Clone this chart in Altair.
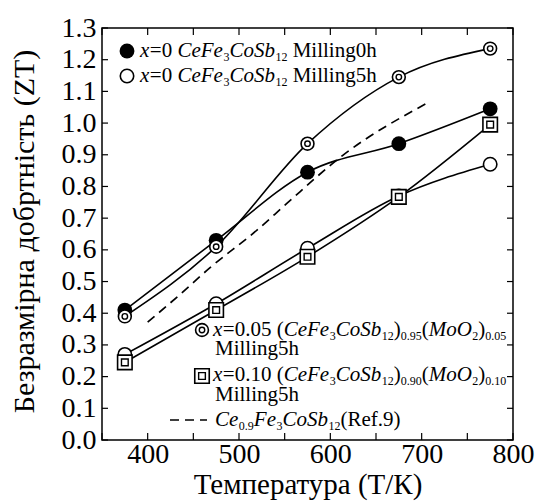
import altair as alt
import pandas as pd

# ---------------- data ----------------
temps = [375, 475, 575, 675, 775]
zt_x0_0h = [0.41, 0.63, 0.845, 0.935, 1.045]
zt_x0_5h = [0.27, 0.43, 0.605, 0.77, 0.87]
zt_x005_5h = [0.39, 0.61, 0.935, 1.145, 1.235]
zt_x010_5h = [0.245, 0.41, 0.578, 0.767, 0.995]
ref9_temps = [400, 435, 468, 520, 553, 614, 706]
ref9_zt = [0.372, 0.458, 0.543, 0.663, 0.748, 0.899, 1.063]

x_tick_values = [350, 400, 450, 500, 550, 600, 650, 700, 750, 800]
x_label_values = [400, 500, 600, 700, 800]
y_tick_values = [0.0, 0.1, 0.2, 0.3, 0.4, 0.5, 0.6, 0.7, 0.8, 0.9, 1.0, 1.1, 1.2, 1.3]

x_title = "Температура (Т/К)"
y_title = "Безразмірна добртність (ZT)"

# ---------------- layout ----------------
W, H = 411, 412
LEFT, TOP = 102, 28
X0, X1 = 350, 800
Y0, Y1 = 0.0, 1.3
FONT = "Liberation Serif"

xs = alt.Scale(domain=[X0, X1], nice=False, zero=False)
ys = alt.Scale(domain=[Y0, Y1], nice=False, zero=False)


def px2x(px):
    return X0 + (px - LEFT) / W * (X1 - X0)


def py2y(py):
    return Y1 - (py - TOP) / H * (Y1 - Y0)


series = pd.DataFrame({
    "T": temps * 4,
    "ZT": zt_x0_0h + zt_x0_5h + zt_x005_5h + zt_x010_5h,
    "s": ["a"] * 5 + ["b"] * 5 + ["c"] * 5 + ["d"] * 5,
})
ref = pd.DataFrame({"T": ref9_temps, "ZT": ref9_zt})

xaxis = alt.Axis(values=x_label_values, ticks=False, domain=False, grid=False,
                 labelFontSize=28, labelColor="black",
                 labelPadding=0, labelFlush=False, format="d",
                 title=x_title, titleFontSize=29,
                 titleFontWeight="normal", titleColor="black",
                 titleX=W / 2, titleY=53, titleBaseline="alphabetic",
                 titleAlign="center")
yaxis = alt.Axis(values=y_tick_values, ticks=False, domain=False, grid=False,
                 labelFontSize=28, labelColor="black",
                 labelPadding=6, format=".1f",
                 title=y_title, titleFontSize=30,
                 titleFontWeight="normal", titleColor="black",
                 titleX=-69, titleY=H / 2 - 3, titleAngle=270,
                 titleBaseline="alphabetic", titleAlign="center")

X = alt.X("T:Q", scale=xs, axis=xaxis)
Y = alt.Y("ZT:Q", scale=ys, axis=yaxis)

base = alt.Chart(series)
lines = base.mark_line(interpolate="monotone", color="black", strokeWidth=1.6).encode(
    x=X, y=Y, detail="s:N")
ref_line = alt.Chart(ref).mark_line(color="black", strokeWidth=1.7,
                                    strokeDash=[9, 6], interpolate="monotone").encode(x=X, y=Y)


def sub(s):
    return base.transform_filter(alt.datum.s == s)


def pt(chart, shape, size, sw, filled_black=False):
    if filled_black:
        m = chart.mark_point(shape=shape, filled=True, size=size, color="black", opacity=1)
    else:
        m = chart.mark_point(shape=shape, filled=True, size=size, fill="white",
                             stroke="black", strokeWidth=sw, opacity=1)
    return m.encode(x=X, y=Y)


pts = [
    pt(sub("a"), "circle", 220, 0, True),
    pt(sub("b"), "circle", 180, 1.6),
    pt(sub("c"), "circle", 165, 1.6),
    pt(sub("c"), "circle", 30, 1.4),
    pt(sub("d"), "square", 210, 1.6),
    pt(sub("d"), "square", 45, 1.4),
]

# ---------------- inward ticks ----------------
xt = pd.DataFrame({"T": x_tick_values})
yt = pd.DataFrame({"ZT": y_tick_values})
tick_b = alt.Chart(xt).mark_rule(color="black", strokeWidth=1.2).encode(
    x=X, y=alt.value(H), y2=alt.value(H - 7))
tick_t = alt.Chart(xt).mark_rule(color="black", strokeWidth=1.2).encode(
    x=X, y=alt.value(0), y2=alt.value(7))
tick_l = alt.Chart(yt).mark_rule(color="black", strokeWidth=1.2).encode(
    y=Y, x=alt.value(0), x2=alt.value(6))
tick_r = alt.Chart(yt).mark_rule(color="black", strokeWidth=1.2).encode(
    y=Y, x=alt.value(W), x2=alt.value(W - 6))

# ---------------- legend text (rich text built from segments) ----------------
REG = {" ": 250, "(": 333, ")": 333, ".": 250, "=": 564, "/": 278,
       "M": 889, "i": 278, "l": 278, "n": 500, "g": 500, "h": 500,
       "R": 667, "e": 444, "f": 333}
ITA = {"x": 444, "C": 667, "e": 444, "F": 611, "o": 500, "S": 500,
       "b": 500, "M": 833, "O": 722, " ": 250}
MAIN, SUBS = 21, 12


def width(text, italic, size):
    tab = ITA if italic else REG
    return sum(tab.get(ch, 500) for ch in text) / 1000 * size


def layout(segs, x0, base_y):
    rows = []
    cx = x0
    for text, kind in segs:
        italic = kind == "i"
        size = SUBS if kind == "s" else MAIN
        lead = len(text) - len(text.lstrip(" "))
        t = text.strip(" ")
        x_here = cx + width(" " * lead, italic, size)
        y_here = base_y + (4 if kind == "s" else 0)
        rows.append({"txt": t, "T": px2x(x_here), "ZT": py2y(y_here), "k": kind})
        cx += width(text, italic, size)
        if italic:
            cx += 0.5
    return rows


L1 = [("x", "i"), ("=0 ", "r"), ("CeFe", "i"), ("3", "s"), ("CoSb", "i"),
      ("12", "s"), (" Milling0h", "r")]
L2 = [("x", "i"), ("=0 ", "r"), ("CeFe", "i"), ("3", "s"), ("CoSb", "i"),
      ("12", "s"), (" Milling5h", "r")]
L3 = [("x", "i"), ("=0.05 (", "r"), ("CeFe", "i"), ("3", "s"), ("CoSb", "i"),
      ("12", "s"), (")", "r"), ("0.95", "s"), ("(", "r"), ("MoO", "i"), ("2", "s"),
      (")", "r"), ("0.05", "s")]
L5 = [("x", "i"), ("=0.10 (", "r"), ("CeFe", "i"), ("3", "s"), ("CoSb", "i"),
      ("12", "s"), (")", "r"), ("0.90", "s"), ("(", "r"), ("MoO", "i"), ("2", "s"),
      (")", "r"), ("0.10", "s")]
L7 = [("Ce", "i"), ("0.9", "s"), ("Fe", "i"), ("3", "s"), ("CoSb", "i"),
      ("12", "s"), ("(Ref.9)", "r")]

rows = []
rows += layout(L1, 140, 57)
rows += layout(L2, 140, 82)
rows += layout(L3, 213, 336)
rows += layout([("Milling5h", "r")], 215, 355)
rows += layout(L5, 213, 381)
rows += layout([("Milling5h", "r")], 215, 401)
rows += layout(L7, 215, 426)
seg = pd.DataFrame(rows)


def txt_layer(kind, size, style):
    return alt.Chart(seg).transform_filter(alt.datum.k == kind).mark_text(
        align="left", baseline="alphabetic", fontSize=size,
        fontStyle=style, color="black").encode(x=X, y=Y, text="txt:N")


t_i = txt_layer("i", MAIN, "italic")
t_r = txt_layer("r", MAIN, "normal")
t_s = txt_layer("s", SUBS, "normal")

# legend markers
lm = pd.DataFrame({"T": [px2x(127), px2x(127), px2x(202), px2x(202)],
                   "ZT": [py2y(51), py2y(76), py2y(330), py2y(376)],
                   "m": ["a", "b", "c", "d"]})
lmb = alt.Chart(lm)


def lsub(m):
    return lmb.transform_filter(alt.datum.m == m)


lms = [
    pt(lsub("a"), "circle", 220, 0, True),
    pt(lsub("b"), "circle", 180, 1.6),
    pt(lsub("c"), "circle", 165, 1.6),
    pt(lsub("c"), "circle", 30, 1.4),
    pt(lsub("d"), "square", 210, 1.6),
    pt(lsub("d"), "square", 45, 1.4),
]

ld = pd.DataFrame({"T": [px2x(170), px2x(207)], "ZT": [py2y(420), py2y(420)]})
leg_dash = alt.Chart(ld).mark_line(color="black", strokeWidth=1.7,
                                   strokeDash=[9, 6]).encode(x=X, y=Y)

chart = alt.layer(
    lines, ref_line, tick_b, tick_t, tick_l, tick_r,
    *pts, t_i, t_r, t_s, *lms, leg_dash,
).properties(
    width=W, height=H,
    autosize=alt.AutoSizeParams(type="none"),
    padding={"left": LEFT, "top": TOP, "right": 536 - LEFT - W, "bottom": 502 - TOP - H},
    background="white",
).configure(
    font=FONT
).configure_axis(
    labelFont=FONT, titleFont=FONT
).configure_text(
    font=FONT
).configure_view(stroke="black", strokeWidth=1.5)

chart.save("out.html", embed_options={"renderer": "svg", "actions": False})
